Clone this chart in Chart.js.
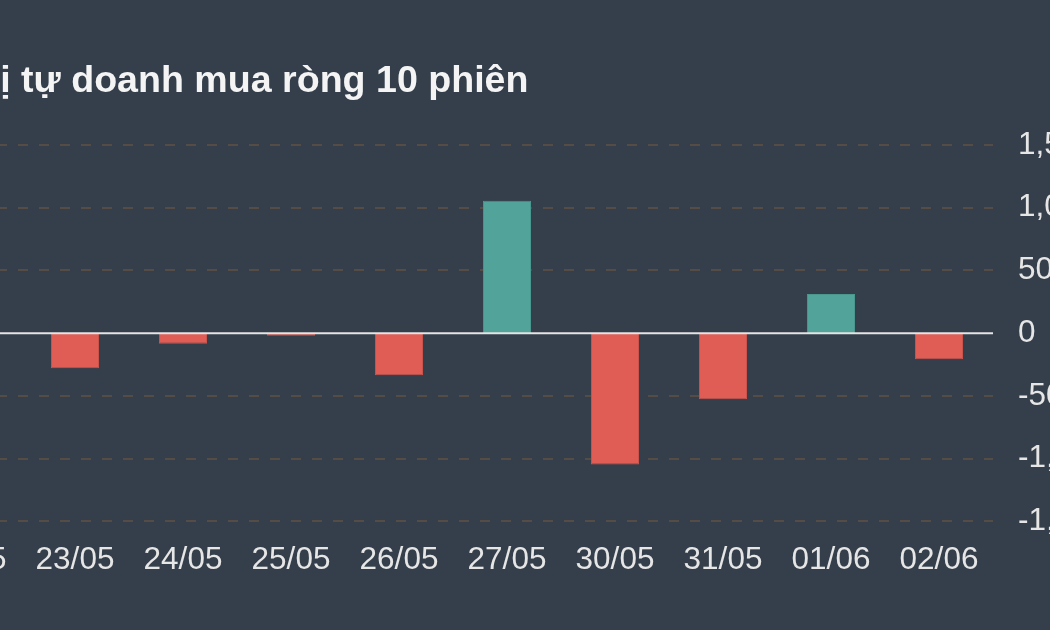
<!DOCTYPE html>
<html>
<head>
<meta charset="utf-8">
<script src="https://cdn.jsdelivr.net/npm/chart.js@4/dist/chart.umd.min.js"></script>
<style>
  html, body { margin: 0; padding: 0; background: #343f4b; overflow: hidden; width: 1050px; height: 630px; }
  #wrap { position: absolute; left: -98px; top: 0; width: 1191px; height: 630px; }
</style>
</head>
<body>
<div id="wrap"><canvas id="c"></canvas></div>
<script>
const titleText = "Giá trị tự doanh mua ròng 10 phiên";
const categories = ["22/05", "23/05", "24/05", "25/05", "26/05", "27/05", "30/05", "31/05", "01/06", "02/06"];
const netBuy = [-120, -280, -85, -20, -336, 1056, -1048, -528, 312, -208];
const yTicks = [-1500, -1000, -500, 0, 500, 1000, 1500];

const UP = "#52a39a", UP_B = "#4a978e";
const DOWN = "#e05d55", DOWN_B = "#c9544d";

const zeroLine = {
  id: "zeroLine",
  afterDatasetsDraw(chart) {
    const y = chart.scales.y.getPixelForValue(0);
    const a = chart.chartArea, ctx = chart.ctx;
    ctx.save();
    ctx.strokeStyle = "#e4e4e4";
    ctx.lineWidth = 2;
    ctx.beginPath();
    ctx.moveTo(a.left, y);
    ctx.lineTo(a.right, y);
    ctx.stroke();
    ctx.restore();
  }
};

new Chart(document.getElementById("c"), {
  type: "bar",
  data: {
    labels: categories,
    datasets: [{
      data: netBuy,
      backgroundColor: netBuy.map(v => v >= 0 ? UP : DOWN),
      borderColor: netBuy.map(v => v >= 0 ? UP_B : DOWN_B),
      borderWidth: 1,
      categoryPercentage: 1,
      barPercentage: 0.445
    }]
  },
  options: {
    responsive: true,
    maintainAspectRatio: false,
    animation: false,
    layout: { padding: { left: 0, right: 0, top: 0, bottom: 31 } },
    plugins: {
      legend: { display: false },
      tooltip: { enabled: false },
      title: {
        display: true,
        text: titleText,
        align: "start",
        color: "#f4f4f4",
        font: { family: "Liberation Sans, Arial, sans-serif", size: 37.6, weight: "bold" },
        padding: { top: 59, bottom: 41 }
      }
    },
    scales: {
      x: {
        grid: { display: false, drawTicks: false },
        border: { display: false },
        ticks: {
          color: "#e6e6e6",
          padding: 20,
          maxRotation: 0,
          autoSkip: false,
          font: { family: "Liberation Sans, Arial, sans-serif", size: 31.5 }
        }
      },
      yl: {
        position: "left",
        display: true,
        grid: { display: false, drawTicks: false },
        border: { display: false },
        ticks: { display: false },
        afterFit(s) { s.width = 11; }
      },
      y: {
        position: "right",
        min: -1500,
        max: 1500,
        afterBuildTicks(s) { s.ticks = yTicks.map(v => ({ value: v })); },
        afterFit(s) { s.width = 100; },
        grid: {
          drawTicks: false,
          color: ctx => (ctx.tick && ctx.tick.value === 0) ? "rgba(0,0,0,0)" : "#554c45",
          lineWidth: 2
        },
        border: { display: false, dash: [10, 11] },
        ticks: {
          color: "#e6e6e6",
          padding: 25,
          font: { family: "Liberation Sans, Arial, sans-serif", size: 31.5 },
          callback: v => v.toLocaleString("en-US")
        }
      }
    }
  },
  plugins: [zeroLine]
});
</script>
</body>
</html>
